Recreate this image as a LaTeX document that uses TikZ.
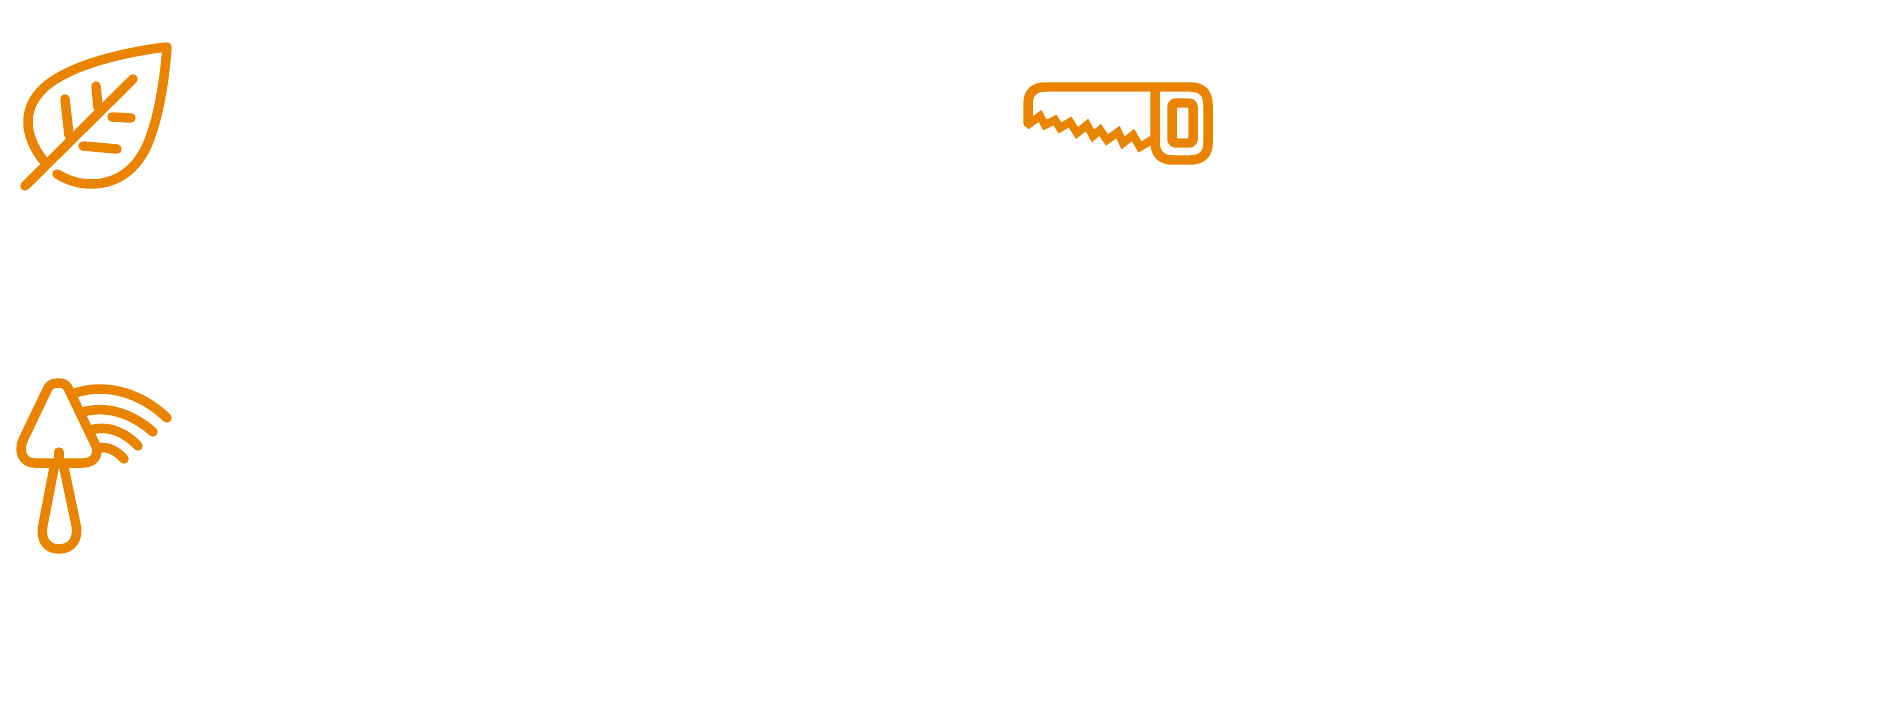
\documentclass[tikz,border=0pt]{standalone}
\definecolor{iconorange}{HTML}{E98300}
\tikzset{iconline/.style={draw=iconorange,line width=5.4pt,line cap=round,line join=round}}
\begin{document}
\begin{tikzpicture}[x=0.02cm,y=-0.02cm]
\useasboundingbox[fill=white] (0,0) rectangle (1900,717);
% leaf
\draw[iconline] (43,160) .. controls (33,147) and (28,134) .. (28,122)
  .. controls (28,100) and (44,84) .. (65,74)
  .. controls (87,62) and (130,51) .. (167,47)
  .. controls (165,75) and (160,110) .. (151,135)
  .. controls (141,166) and (120,184) .. (91,184)
  .. controls (78,184) and (67,180) .. (57,174);
\draw[iconline] (25,186) -- (133,79);
\draw[iconline] (65,99) -- (69,135);
\draw[iconline] (96,86) -- (98,107);
\draw[iconline] (112,117) -- (131,118);
\draw[iconline] (83,146) -- (117,149);
% saw
\draw[iconline] (1028,123) -- (1028,104) .. controls (1028,93) and (1034,87) .. (1045,87)
  -- (1190,87) .. controls (1202,87) and (1208,93) .. (1208,105)
  -- (1208,143) .. controls (1208,154) and (1202,160) .. (1190,160)
  -- (1172,160) .. controls (1162,160) and (1155,154) .. (1155,142) -- (1155,87);
\draw[draw=iconorange,line width=4.6pt,line join=miter] (1026,126) -- (1040,116) -- (1045,125) -- (1055,120) -- (1060,128) -- (1070,122)
  -- (1077,133) -- (1087,125) -- (1093,136) -- (1100,130) -- (1107,140) -- (1118,132)
  -- (1123,143) -- (1133,135) -- (1140,147) -- (1155,138);
\draw[iconline,rounded corners=2pt] (1172,103) rectangle (1193,143);
% trowel
\draw[iconline] (59,383) .. controls (52,383) and (49,385) .. (47,390)
  -- (23,440) .. controls (18,452) and (23,463) .. (35,463)
  -- (83,463) .. controls (94,463) and (99,455) .. (96,446)
  -- (69,390) .. controls (67,385) and (64,383) .. (59,383) -- cycle;
\draw[iconline] (59,452) -- (59,463);
\draw[iconline] (55,463) -- (43,525) .. controls (40,540) and (47,549) .. (59,549)
  .. controls (71,549) and (79,540) .. (76,525) -- (63,463);
\draw[iconline] (75,393) .. controls (105,383) and (140,392) .. (167,418);
\draw[iconline] (83,412) .. controls (107,405) and (133,414) .. (153,432);
\draw[iconline] (90,430) .. controls (108,425) and (125,432) .. (138,446);
\draw[iconline] (98,448) .. controls (108,446) and (117,451) .. (124,459);
\end{tikzpicture}
\end{document}
